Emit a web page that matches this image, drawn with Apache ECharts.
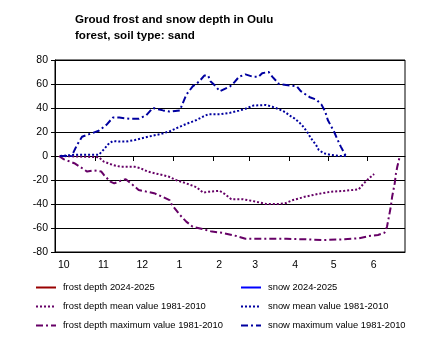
<!DOCTYPE html>
<html>
<head>
<meta charset="utf-8">
<script src="https://cdn.jsdelivr.net/npm/echarts@6/dist/echarts.min.js"></script>
<style>
html,body{margin:0;padding:0;background:#fff;}
#c{width:430px;height:352px;}
</style>
</head>
<body>
<div id="c"></div>
<script>
// Month tick labels and their first-day index (days from 1 Oct)
const monthLabels = ['10','11','12','1','2','3','4','5','6'];
const monthStarts = [0,31,61,92,123,151,182,212,243];
const dayCount = 273; // 1 Oct .. 30 Jun

// [day index, value in cm]
const frostCurrent = [];
const snowCurrent = [];
const frostMean = [[4,0],[34,-1],[38,-4.7],[45,-7.5],[51,-9],[62,-9],[66,-10],[72,-13],[80,-15],[88,-17],[94,-20],[102,-22.8],[110,-26],[115,-30.5],[120,-29.7],[128,-29],[132,-31.7],[137,-36],[146,-36],[156,-38],[164,-40],[174,-40],[179,-39.4],[185,-36.7],[194,-34],[204,-31.7],[215,-29.7],[225,-29],[236,-27.8],[240,-22.8],[244,-18.6],[248,-15]];
const frostMax = [[3,0],[7,-2.8],[15,-6],[20,-9.4],[25,-13],[30,-12],[36,-13],[38,-15.8],[43,-21.4],[46,-22.8],[51,-20.6],[55,-19.4],[59,-22.8],[65,-28.3],[71,-29.7],[77,-31],[82,-33.3],[89,-36.7],[91,-41],[97,-49],[102,-54.7],[107,-58.9],[115,-61],[122,-63],[130,-64],[141,-66.7],[148,-68.9],[164,-69],[180,-69],[194,-69.4],[209,-70],[225,-69.4],[236,-68.6],[244,-66.7],[251,-65.8],[256,-64],[258,-59],[260,-47.8],[261,-42],[262,-34],[264,-22.8],[265,-14.4],[266,-9],[268,0]];
const snowMean = [[4,0],[15,1],[34,1],[38,5.5],[42,10.5],[45,12.5],[50,12],[55,12],[62,13.3],[67,14.7],[75,16.7],[82,18.3],[89,20.5],[94,23],[102,26.7],[110,30],[115,32.8],[119,34.7],[128,34.7],[136,36],[143,37.8],[148,39.4],[154,42],[164,42.5],[169,41],[174,39],[179,36.5],[182,34],[186,31.4],[190,27.8],[193,24.4],[196,20],[199,14.7],[203,9],[205,5],[209,2.2],[215,0.8],[221,0],[226,0]];
const snowMax = [[4,0],[13,0],[17,9],[21,16],[26,18],[34,21],[40,26],[45,32],[50,32],[58,31],[65,31],[71,34],[76,40],[84,38],[89,37],[97,38],[102,51],[107,58],[112,62],[116,67],[119,67],[121,62],[125,58],[128,54],[132,56],[136,58],[139,61],[143,66],[148,68],[154,66],[158,66],[161,69],[166,70],[169,66],[174,60],[181,59],[188,58],[191,54],[198,49],[203,47],[207,43],[210,37],[212,30],[215,24],[217,20],[219,15],[222,8],[225,2],[226,0]];

const categories = [];
{
  const d0 = new Date(Date.UTC(2024,9,1));
  for (let i = 0; i < dayCount; i++) {
    const d = new Date(d0.getTime() + i*86400000);
    categories.push((d.getUTCMonth()+1) + '-' + d.getUTCDate());
  }
}
const labelAt = {};
monthStarts.forEach((s,i)=>{ labelAt[s] = monthLabels[i]; });

const FONT = "'Liberation Sans', Arial, sans-serif";
const FROST = '#660066';
const SNOW = '#0000a0';

function mkSeries(name, data, color, type) {
  return {
    name, type:'line', data, xAxisIndex:0, yAxisIndex:0,
    showSymbol:false, symbol:'none', smooth:false, animation:false,
    lineStyle:{color, width:2, type, cap:'butt'},
    itemStyle:{color}
  };
}

const legendBase = {
  orient:'vertical', top:283, padding:0, itemWidth:20, itemHeight:10, itemGap:10,
  itemStyle:{opacity:0, borderWidth:0},
  textStyle:{fontFamily:FONT, fontSize:9.4, color:'#000', padding:[0,0,0,2]}
};

const chart = echarts.init(document.getElementById('c'), null, {renderer:'canvas'});
chart.setOption({
  animation:false,
  backgroundColor:'#fff',
  title:{
    text:'Groud frost and snow depth in Oulu\nforest, soil type: sand',
    left:75, top:12, padding:0,
    textStyle:{fontFamily:FONT, fontSize:11.6, fontWeight:'bold', color:'#000', lineHeight:16}
  },
  grid:{left:55, right:25, top:60, bottom:100, show:true, borderColor:'#000', borderWidth:1, containLabel:false},
  legend:[
    Object.assign({}, legendBase, {
      left:35,
      data:['frost depth 2024-2025','frost depth mean value 1981-2010','frost depth maximum value 1981-2010']
    }),
    Object.assign({}, legendBase, {
      left:240,
      data:['snow 2024-2025','snow mean value 1981-2010','snow maximum value 1981-2010']
    })
  ],
  xAxis:[
    {
      type:'category', data:categories, boundaryGap:false, position:'bottom',
      axisLine:{show:true, onZero:false, lineStyle:{color:'#000', width:1}},
      axisTick:{show:false},
      splitLine:{show:false},
      axisLabel:{
        interval:(i)=> labelAt[i] !== undefined,
        formatter:(v,i)=> labelAt[i] || '',
        align:'left', padding:[0,0,0,3], margin:8,
        fontFamily:FONT, fontSize:10.5, color:'#000'
      }
    },
    {
      type:'category', data:categories, boundaryGap:false, position:'bottom',
      axisLine:{show:true, onZero:true, lineStyle:{color:'#000', width:1}},
      axisTick:{show:true, interval:(i)=> labelAt[i] !== undefined, length:5, inside:false, lineStyle:{color:'#000'}},
      axisLabel:{show:false},
      splitLine:{show:false}
    }
  ],
  yAxis:{
    type:'value', min:-80, max:80, interval:20,
    axisLine:{show:true, lineStyle:{color:'#000'}},
    axisTick:{show:true, length:4, lineStyle:{color:'#000'}},
    splitLine:{show:true, lineStyle:{color:'#000', width:1}},
    axisLabel:{fontFamily:FONT, fontSize:10.5, color:'#000', margin:7}
  },
  series:[
    mkSeries('frost depth 2024-2025', frostCurrent, '#990000', 'solid'),
    mkSeries('frost depth mean value 1981-2010', frostMean, FROST, [2,2]),
    mkSeries('frost depth maximum value 1981-2010', frostMax, FROST, [7,3,2,3]),
    mkSeries('snow 2024-2025', snowCurrent, '#0000ff', 'solid'),
    mkSeries('snow mean value 1981-2010', snowMean, SNOW, [2,2]),
    mkSeries('snow maximum value 1981-2010', snowMax, SNOW, [7,3,2,3])
  ]
});
</script>
</body>
</html>
